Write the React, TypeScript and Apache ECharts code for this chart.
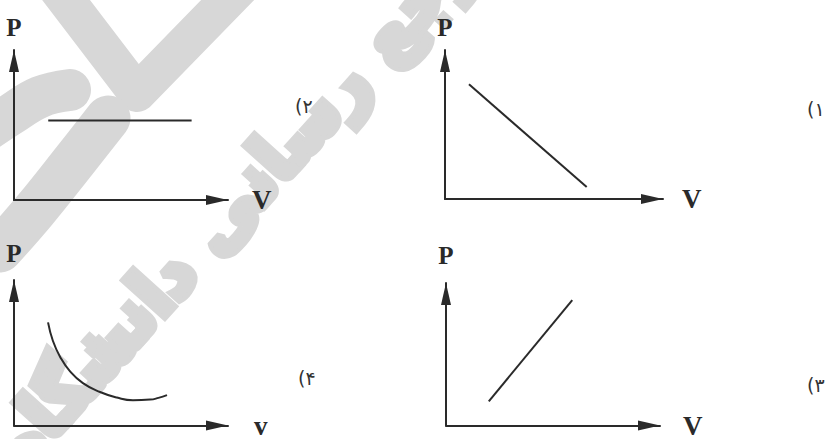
import React, { useEffect, useRef } from "react";
import * as echarts from "echarts";

// ---- data ----
// LRO ... PDF keeps the parenthesis on the left of the Persian digit
const panelLabels = ["\u202D(۲\u202C", "\u202D(۱\u202C", "\u202D(۴\u202C", "\u202D(۳\u202C"]; // TL, TR, BL, BR
const yAxisNames = ["P", "P", "P", "P"];
const xAxisNames = ["V", "V", "v", "V"];

// panel ۲ (top-left): constant pressure
const constV = [1.6, 8.3];
const constP = [5.3, 5.3];
// panel ۱ (top-right): falling straight line
const fallV = [1.1, 6.5];
const fallP = [7.7, 0.8];
// panel ۴ (bottom-left): curve
const curveV = [1.59, 1.82, 2.15, 2.62, 3.22, 4.02, 4.81, 5.56, 6.36, 6.75, 7.15];
const curveP = [7.09, 5.81, 4.73, 3.72, 2.91, 2.3, 1.92, 1.74, 1.78, 1.9, 2.09];
// panel ۳ (bottom-right): rising straight line
const riseV = [2.0, 5.9];
const riseP = [1.7, 8.8];

const watermarkText = "مرجع رسانی دانشگاه";

const INK = "#2a2a2a";
const WM = "#d7d7d7";

const zip = (xs: number[], ys: number[]) => xs.map((x, i) => [x, ys[i]]);

export default function App() {
  const ref = useRef<HTMLDivElement>(null);
  useEffect(() => {
    document.body.style.margin = "0";
    if (!ref.current) return;
    const chart = echarts.init(ref.current, null, { renderer: "svg" });

    const grids = [
      { left: 14, top: 50, width: 214, height: 150 },
      { left: 445, top: 50, width: 218, height: 149 },
      { left: 14, top: 280, width: 214, height: 148 },
      { left: 446, top: 283, width: 214, height: 147 },
    ];
    const xNameGap = [24, 19, 26, 23];
    const xNamePad = [8, 6, 20, 14];
    const yNameGap = [10, 10, 14, 15];
    const labelPos = [
      [295, 106],
      [807, 109],
      [298, 378],
      [807, 385],
    ];

    const axisLine = {
      show: true,
      symbol: ["none", "triangle"],
      symbolSize: [10, 22],
      symbolOffset: [0, -11],
      lineStyle: { color: INK, width: 2 },
    };
    const nameFont = {
      fontFamily: "Liberation Serif",
      fontSize: 25,
      fontWeight: "bold" as const,
      color: INK,
    };

    const seriesData = [
      zip(constV, constP),
      zip(fallV, fallP),
      zip(curveV, curveP),
      zip(riseV, riseP),
    ];

    chart.setOption({
      animation: false,
      backgroundColor: "#ffffff",
      grid: grids.map((g) => ({ ...g, containLabel: false })),
      xAxis: grids.map((_, i) => ({
        gridIndex: i,
        type: "value",
        min: 0,
        max: 10,
        axisLine,
        axisTick: { show: false },
        axisLabel: { show: false },
        splitLine: { show: false },
        name: xAxisNames[i],
        nameLocation: "end",
        nameGap: xNameGap[i],
        nameTextStyle: { ...nameFont, fontSize: 27, padding: [0, 0, xNamePad[i], 0] },
      })),
      yAxis: grids.map((_, i) => ({
        gridIndex: i,
        type: "value",
        min: 0,
        max: 10,
        axisLine,
        axisTick: { show: false },
        axisLabel: { show: false },
        splitLine: { show: false },
        name: yAxisNames[i],
        nameLocation: "end",
        nameGap: yNameGap[i],
        nameTextStyle: nameFont,
      })),
      series: seriesData.map((d, i) => ({
        type: "line",
        xAxisIndex: i,
        yAxisIndex: i,
        data: d,
        showSymbol: false,
        smooth: i === 2 ? 0.5 : false,
        lineStyle: { color: INK, width: 2 },
      })),
      graphic: [
        {
          type: "polyline",
          z: -10,
          shape: { points: [[47, -25], [137, 93], [252, -25]] },
          style: { stroke: WM, lineWidth: 38, fill: null, lineJoin: "round" },
        },
        {
          type: "polyline",
          z: -10,
          shape: { points: [[70, 90], [40, 97], [10, 115], [-20, 135]], smooth: 0.4 },
          style: { stroke: WM, lineWidth: 42, fill: null, lineCap: "round", lineJoin: "round" },
        },
        {
          type: "polyline",
          z: -10,
          shape: { points: [[108, 118], [75, 160], [35, 210], [0, 250]], smooth: 0.4 },
          style: { stroke: WM, lineWidth: 45, fill: null, lineCap: "round", lineJoin: "round" },
        },
        {
          type: "text",
          z: -10,
          x: 250,
          y: 185,
          rotation: (48 * Math.PI) / 180,
          style: {
            text: watermarkText,
            fontFamily: "DejaVu Sans",
            fontSize: 70,
            fontWeight: "bold",
            fill: WM,
            stroke: WM,
            lineWidth: 9,
            lineJoin: "round",
            align: "center",
            verticalAlign: "middle",
          },
        },
        ...panelLabels.map((t, i) => ({
          type: "text",
          z: 10,
          x: labelPos[i][0],
          y: labelPos[i][1],
          style: {
            text: t,
            fontFamily: "DejaVu Sans",
            fontSize: 19,
            fill: "#333333",
            align: "left",
            verticalAlign: "middle",
          },
        })),
      ],
    });
    return () => chart.dispose();
  }, []);
  return <div ref={ref} style={{ width: 827, height: 439 }} />;
}
